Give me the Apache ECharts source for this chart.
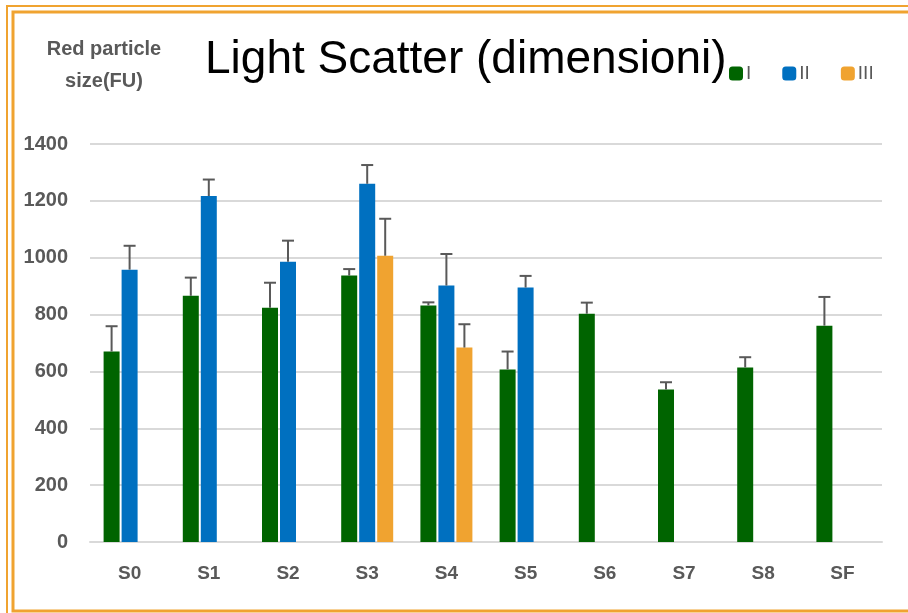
<!DOCTYPE html>
<html>
<head>
<meta charset="utf-8">
<script src="https://cdn.jsdelivr.net/npm/echarts@6/dist/echarts.min.js"></script>
<style>
  html, body { margin: 0; padding: 0; background: #fff; }
  #chart { width: 908px; height: 613px; }
</style>
</head>
<body>
<div id="chart"></div>
<script>
const categories = ['S0', 'S1', 'S2', 'S3', 'S4', 'S5', 'S6', 'S7', 'S8', 'SF']
const seriesNames = ['I', 'II', 'III']
const valuesI = [670, 866, 824, 937, 832, 607, 803, 536, 614, 761]
const valuesII = [958, 1217, 986, 1260, 902, 895, null, null, null, null]
const valuesIII = [null, null, null, 1007, 684, null, null, null, null, null]
const errI = [89, 64, 88, 23, 11, 63, 39, 26, 36, 101]
const errII = [84, 58, 74, 66, 111, 41, null, null, null, null]
const errIII = [null, null, null, 130, 82, null, null, null, null, null]
const yTicks = [0, 200, 400, 600, 800, 1000, 1200, 1400]

const colors = ['#006400', '#0070C0', '#F0A330']
const barW = 16
const gap = 2

const chart = echarts.init(document.getElementById('chart'))

function errData(vals, errs) {
  return vals.map((v, i) => (v == null || errs[i] == null) ? null : [i, v, v + errs[i]])
}

// plus-only error bars, drawn on top of the matching bar slot
function errSeries(name, data, offset) {
  return {
    name,
    type: 'custom',
    silent: true,
    z: 5,
    encode: { x: 0, y: [1, 2] },
    data: data.filter(d => d),
    renderItem: (params, api) => {
      const p0 = api.coord([api.value(0), api.value(1)])
      const p1 = api.coord([api.value(0), api.value(2)])
      const x = p0[0] + offset
      const style = { stroke: '#595959', lineWidth: 2 }
      return {
        type: 'group',
        children: [
          { type: 'line', shape: { x1: x, y1: p0[1], x2: x, y2: p1[1] }, style },
          { type: 'line', shape: { x1: x - 6, y1: p1[1], x2: x + 6, y2: p1[1] }, style },
        ],
      }
    },
  }
}

const barBase = { type: 'bar', barWidth: barW, barGap: (gap / barW * 100) + '%' }

chart.setOption({
  animation: false,
  title: [
    {
      text: 'Light Scatter (dimensioni)',
      left: 200, top: 32,
      textStyle: { fontFamily: 'Liberation Sans', fontSize: 46, fontWeight: 'normal', color: '#000' },
    },
    {
      text: 'Red particle\nsize(FU)',
      left: 99, top: 28, textAlign: 'center',
      textStyle: { fontFamily: 'Liberation Sans', fontSize: 20, fontWeight: 'bold', color: '#595959', lineHeight: 32 },
    },
  ],
  legend: {
    data: seriesNames,
    left: 724, top: 59,
    itemWidth: 14, itemHeight: 14, itemGap: 31,
    icon: 'roundRect',
    textStyle: { fontFamily: 'Liberation Sans', fontSize: 19, color: '#595959', padding: [0, 0, 0, -2] },
  },
  grid: { left: 90, right: 26, top: 144, bottom: 71 },
  xAxis: {
    type: 'category',
    data: categories,
    axisLine: { lineStyle: { color: '#D9D9D9', width: 2 } },
    axisTick: { show: false },
    axisLabel: { color: '#595959', fontFamily: 'Liberation Sans', fontWeight: 'bold', fontSize: 19, margin: 22 },
  },
  yAxis: {
    type: 'value',
    min: yTicks[0], max: yTicks[yTicks.length - 1], interval: 200,
    axisLine: { show: false },
    axisTick: { show: false },
    splitLine: { lineStyle: { color: '#D9D9D9', width: 2 } },
    axisLabel: {
      color: '#595959', fontFamily: 'Liberation Sans', fontWeight: 'bold', fontSize: 20, margin: 22,
      formatter: v => String(v),
    },
  },
  series: [
    { ...barBase, name: 'I', data: valuesI, itemStyle: { color: colors[0] } },
    { ...barBase, name: 'II', data: valuesII, itemStyle: { color: colors[1] } },
    { ...barBase, name: 'III', data: valuesIII, itemStyle: { color: colors[2] } },
    errSeries('errI', errData(valuesI, errI), -(barW + gap)),
    errSeries('errII', errData(valuesII, errII), 0),
    errSeries('errIII', errData(valuesIII, errIII), barW + gap),
  ],
  graphic: [
    { type: 'rect', shape: { x: 7, y: 6, width: 920, height: 620 }, style: { fill: 'none', stroke: colors[2], lineWidth: 2 }, silent: true },
    { type: 'rect', shape: { x: 13, y: 12, width: 920, height: 599 }, style: { fill: 'none', stroke: colors[2], lineWidth: 3 }, silent: true },
  ],
})
</script>
</body>
</html>
